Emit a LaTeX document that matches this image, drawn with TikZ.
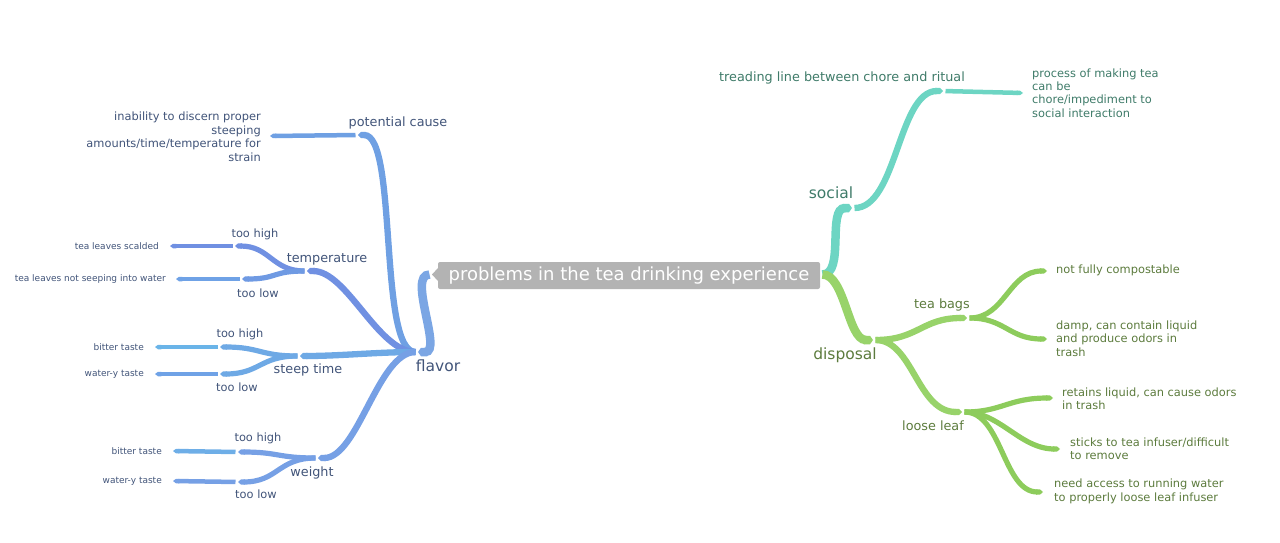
\documentclass[tikz,border=0pt]{standalone}
\usepackage{fontspec}
\setmainfont{DejaVu Sans}
\usetikzlibrary{arrows.meta}
\definecolor{tL}{HTML}{415479}
\definecolor{tS}{HTML}{3F7B69}
\definecolor{tD}{HTML}{5C7B3D}
\definecolor{cFl}{HTML}{7BA6E4}
\definecolor{cPc}{HTML}{6FA0E3}
\definecolor{cTp}{HTML}{7090E2}
\definecolor{cSt}{HTML}{6EA9E5}
\definecolor{cWg}{HTML}{76A0E5}
\definecolor{cLb}{HTML}{6AB4E8}
\definecolor{cLw}{HTML}{6FA2E6}
\definecolor{cSo}{HTML}{6DD5C3}
\definecolor{cDi}{HTML}{98D36A}
\definecolor{cDj}{HTML}{8DCC5C}
\definecolor{cRoot}{HTML}{B3B3B3}
\begin{document}
\begin{tikzpicture}[x=1pt,y=-1pt,
  edge/.style={line cap=butt,-{Triangle Cap[length=3pt]},shorten <=2.5pt},
  wa/.style={line width=8.5pt},
  wb/.style={line width=6.3pt},
  wc/.style={line width=5.2pt},
  wd/.style={line width=4.5pt},
  rootbox/.style={fill=cRoot,rounded corners=2pt,text=white,inner sep=0pt,
    minimum width=382pt,minimum height=27pt,font=\fontsize{18}{20}\selectfont},
  lone/.style={inner sep=0pt,font=\fontsize{15.5}{18}\selectfont},
  ltwo/.style={inner sep=0pt,font=\fontsize{12.8}{15}\selectfont},
  lthree/.style={inner sep=0pt,font=\fontsize{11.4}{13.5}\selectfont},
  leaftext/.style={inner sep=0pt,font=\fontsize{11.4}{13.4}\selectfont},
  smallleaf/.style={inner sep=0pt,font=\fontsize{9}{11}\selectfont}]
\useasboundingbox (0,0) rectangle (1280,542);

% root
\node[rootbox] (root) at (629,275.5) {problems in the tea drinking experience};
\fill[cRoot] (438,268) -- (432,274.5) -- (438,281) -- cycle;
\coordinate (rootL) at (432,274.5);
\coordinate (rootR) at (820,274.5);

% junctions left
\coordinate (flv) at (418,352);
\coordinate (pc) at (358,135);
\coordinate (pcleaf) at (270,136);
\coordinate (tmp) at (307,271);
\coordinate (tmpH) at (235,246);
\coordinate (tmpHleaf) at (170,246);
\coordinate (tmpL) at (242,279);
\coordinate (tmpLleaf) at (176,279);
\coordinate (stp) at (300,356);
\coordinate (stpH) at (220,347);
\coordinate (stpHleaf) at (155,347);
\coordinate (stpL) at (220,374);
\coordinate (stpLleaf) at (155,374);
\coordinate (wgt) at (318,458);
\coordinate (wgtH) at (238,452);
\coordinate (wgtHleaf) at (173,451);
\coordinate (wgtL) at (238,482);
\coordinate (wgtLleaf) at (173,481);

% junctions right
\coordinate (soc) at (852,208);
\coordinate (trd) at (943,91);
\coordinate (trdleaf) at (1023,93);
\coordinate (dsp) at (873,340);
\coordinate (tb) at (967,318);
\coordinate (tbA) at (1047,271);
\coordinate (tbB) at (1047,339);
\coordinate (ll) at (962,412);
\coordinate (llA) at (1053,398);
\coordinate (llB) at (1060,449);
\coordinate (llC) at (1043,492);

% left edges
\draw[edge,wa,cFl] (rootL) .. controls +(-25,0) and +(25,0) .. (flv);
\draw[edge,wb,cPc] (flv) .. controls +(-40,0) and +(40,0) .. (pc);
\draw[edge,wd,cPc] (pc) -- (pcleaf);
\draw[edge,wb,cTp] (flv) .. controls +(-40,0) and +(40,0) .. (tmp);
\draw[edge,wc,cTp] (tmp) .. controls +(-35,0) and +(35,0) .. (tmpH);
\draw[edge,wd,cTp] (tmpH) -- (tmpHleaf);
\draw[edge,wc,cTp!60!cSt] (tmp) .. controls +(-35,0) and +(35,0) .. (tmpL);
\draw[edge,wd,cLw] (tmpL) -- (tmpLleaf);
\draw[edge,wb,cSt] (flv) .. controls +(-40,0) and +(40,0) .. (stp);
\draw[edge,wc,cSt] (stp) .. controls +(-40,0) and +(40,0) .. (stpH);
\draw[edge,wd,cLb] (stpH) -- (stpHleaf);
\draw[edge,wc,cSt] (stp) .. controls +(-40,0) and +(40,0) .. (stpL);
\draw[edge,wd,cLw] (stpL) -- (stpLleaf);
\draw[edge,wb,cWg] (flv) .. controls +(-40,0) and +(40,0) .. (wgt);
\draw[edge,wc,cWg] (wgt) .. controls +(-40,0) and +(40,0) .. (wgtH);
\draw[edge,wd,cLb!70!cWg] (wgtH) -- (wgtHleaf);
\draw[edge,wc,cWg] (wgt) .. controls +(-40,0) and +(40,0) .. (wgtL);
\draw[edge,wd,cWg] (wgtL) -- (wgtLleaf);

% right edges
\draw[edge,wa,cSo] (rootR) .. controls +(25,0) and +(-25,0) .. (soc);
\draw[edge,wb,cSo] (soc) .. controls +(45,0) and +(-45,0) .. (trd);
\draw[edge,wd,cSo] (trd) -- (trdleaf);
\draw[edge,wa,cDi] (rootR) .. controls +(25,0) and +(-25,0) .. (dsp);
\draw[edge,wb,cDi] (dsp) .. controls +(45,0) and +(-45,0) .. (tb);
\draw[edge,wc,cDj] (tb) .. controls +(38,0) and +(-38,0) .. (tbA);
\draw[edge,wc,cDj] (tb) .. controls +(38,0) and +(-38,0) .. (tbB);
\draw[edge,wb,cDi] (dsp) .. controls +(40,0) and +(-45,0) .. (ll);
\draw[edge,wc,cDj] (ll) .. controls +(40,0) and +(-45,0) .. (llA);
\draw[edge,wc,cDj] (ll) .. controls +(38,0) and +(-40,0) .. (llB);
\draw[edge,wc,cDj] (ll) .. controls +(40,0) and +(-40,0) .. (llC);

% left labels
\node[lone,tL] (flavorT) at (438,366) {flavor};
\node[ltwo,tL] (pcT) at (398,123) {potential cause};
\node[lthree,tL,anchor=east,align=right] (pcleafT) at (261,136.5)
  {inability to discern proper\\steeping\\amounts/time/temperature for\\strain};
\node[ltwo,tL] (tmpT) at (327,259) {temperature};
\node[lthree,tL] (tmpHT) at (255,234) {too high};
\node[lthree,tL] (tmpLT) at (258,293) {too low};
\node[smallleaf,tL,anchor=east] (tmpHleafT) at (159,246) {tea leaves scalded};
\node[smallleaf,tL,anchor=east] (tmpLleafT) at (166,279) {tea leaves not seeping into water};
\node[ltwo,tL] (stpT) at (308,370) {steep time};
\node[lthree,tL] (stpHT) at (240,334) {too high};
\node[lthree,tL] (stpLT) at (237,387) {too low};
\node[smallleaf,tL,anchor=east] (stpHleafT) at (144,347) {bitter taste};
\node[smallleaf,tL,anchor=east] (stpLleafT) at (144,374) {water-y taste};
\node[ltwo,tL] (wgtT) at (312,473) {weight};
\node[lthree,tL] (wgtHT) at (258,438) {too high};
\node[lthree,tL] (wgtLT) at (256,494) {too low};
\node[smallleaf,tL,anchor=east] (wgtHleafT) at (162,451) {bitter taste};
\node[smallleaf,tL,anchor=east] (wgtLleafT) at (162,481) {water-y taste};

% right labels
\node[lone,tS] (socT) at (831,193) {social};
\node[ltwo,tS] (trdT) at (842,78) {treading line between chore and ritual};
\node[leaftext,tS,anchor=west,align=left] (trdleafT) at (1032,93)
  {process of making tea\\can be\\chore/impediment to\\social interaction};
\node[lone,tD] (dspT) at (845,355) {disposal};
\node[ltwo,tD] (tbT) at (942,305) {tea bags};
\node[leaftext,tD,anchor=west] (tbAT) at (1056,270) {not fully compostable};
\node[leaftext,tD,anchor=west,align=left] (tbBT) at (1056,338.5)
  {damp, can contain liquid\\and produce odors in\\trash};
\node[ltwo,tD] (llT) at (933,426) {loose leaf};
\node[leaftext,tD,anchor=west,align=left] (llAT) at (1062,398.5)
  {retains liquid, can cause odors\\in trash};
\node[leaftext,tD,anchor=west,align=left] (llBT) at (1070,448.5)
  {sticks to tea infuser/difficult\\to remove};
\node[leaftext,tD,anchor=west,align=left] (llCT) at (1054,491.5)
  {need access to running water\\to properly loose leaf infuser};
\end{tikzpicture}
\end{document}
